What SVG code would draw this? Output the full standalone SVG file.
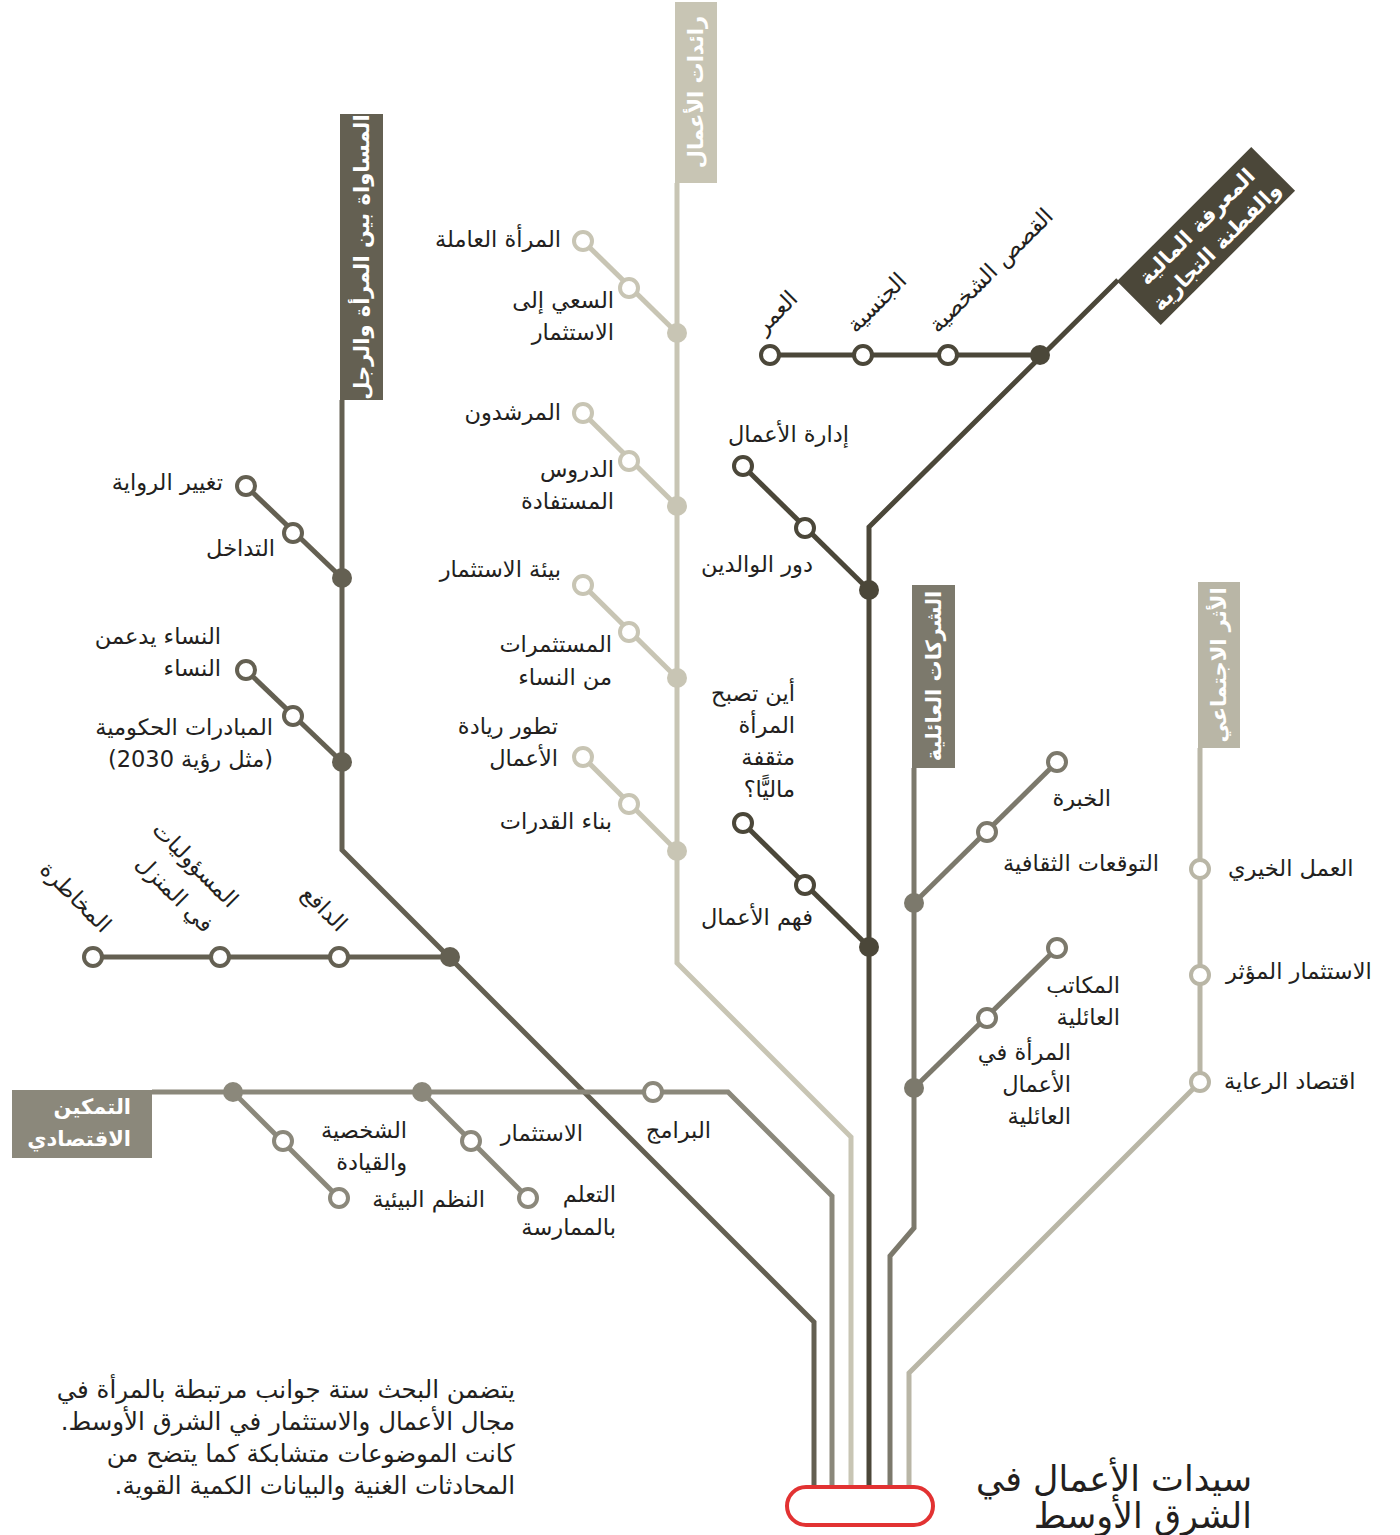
<svg xmlns="http://www.w3.org/2000/svg" width="1400" height="1535" viewBox="0 0 1400 1535">
<style>
.t{font-family:"DejaVu Sans","Noto Sans",sans-serif;font-size:22.5px;fill:#231f20;direction:rtl}
.R{text-anchor:start}
.L{text-anchor:end}
.p{font-size:24.5px}
.ttl{font-size:35px}
.hd{font-family:"DejaVu Sans","Noto Sans",sans-serif;font-size:21px;font-weight:bold;fill:#ffffff;text-anchor:middle;direction:rtl}
.ln{fill:none;stroke-width:5;stroke-linejoin:miter}
.o{fill:#ffffff;stroke-width:4}
.eq{stroke:#646052}
.en{stroke:#c8c5b4}
.fi{stroke:#4b4739}
.fa{stroke:#7c796c}
.so{stroke:#b9b6a6}
.ec{stroke:#8b887b}
</style>
<rect width="1400" height="1535" fill="#ffffff"/>

<g id="connectors">
  <path class="ln eq" d="M342,400 V850 L814,1322 V1489"/>
  <path class="ln eq" d="M246,486 L342,578"/>
  <path class="ln eq" d="M246,670 L342,762"/>
  <path class="ln eq" d="M93,957 H450"/>
  <path class="ln en" d="M677,183 V963 L851,1137 V1489"/>
  <path class="ln en" d="M583,241 L677,333"/>
  <path class="ln en" d="M583,413 L677,506"/>
  <path class="ln en" d="M583,585 L677,678"/>
  <path class="ln en" d="M583,757 L677,851"/>
  <path class="ln fi" d="M1118,280 L869,527 V1489"/>
  <path class="ln fi" d="M770,355 H1040"/>
  <path class="ln fi" d="M743,466 L869,590"/>
  <path class="ln fi" d="M743,823 L869,947"/>
  <path class="ln fa" d="M914,768 V1228 L890,1256 V1489"/>
  <path class="ln fa" d="M914,903 L1057,762"/>
  <path class="ln fa" d="M914,1088 L1057,948"/>
  <path class="ln so" d="M1200,748 V1082 L909,1373 V1489"/>
  <path class="ln ec" d="M152,1092 H728 L832,1196 V1489"/>
  <path class="ln ec" d="M233,1092 L339,1198"/>
  <path class="ln ec" d="M422,1092 L528,1198"/>
</g>

<g id="node-equality">
  <rect x="340" y="114" width="43" height="286" fill="#646052"/>
  <text class="hd" transform="translate(369,257) rotate(-90)">المساواة بين المرأة والرجل</text>
  <circle class="o eq" cx="246" cy="486" r="9"/>
  <circle class="o eq" cx="293" cy="533" r="9"/>
  <circle cx="342" cy="578" r="10" fill="#646052"/>
  <circle class="o eq" cx="246" cy="670" r="9"/>
  <circle class="o eq" cx="293" cy="716" r="9"/>
  <circle cx="342" cy="762" r="10" fill="#646052"/>
  <circle class="o eq" cx="93" cy="957" r="9"/>
  <circle class="o eq" cx="220" cy="957" r="9"/>
  <circle class="o eq" cx="339" cy="957" r="9"/>
  <circle cx="450" cy="957" r="10" fill="#646052"/>
  <text class="t R" x="223" y="490">تغيير الرواية</text>
  <text class="t R" x="275" y="556">التداخل</text>
  <text class="t R" x="221" y="644">النساء يدعمن</text>
  <text class="t R" x="221" y="676">النساء</text>
  <text class="t R" x="273" y="735">المبادرات الحكومية</text>
  <text class="t R" x="273" y="767">(مثل رؤية 2030)</text>
  <text class="t R" transform="translate(102,934) rotate(45)">المخاطرة</text>
  <text class="t R" transform="translate(229,909) rotate(45)">المسؤوليات</text>
  <text class="t R" transform="translate(204,934) rotate(45)">في المنزل</text>
  <text class="t R" transform="translate(338,933) rotate(45)">الدافع</text>
</g>

<g id="node-entrepreneurs">
  <rect x="675" y="2" width="42" height="181" fill="#c8c5b4"/>
  <text class="hd" transform="translate(703,92) rotate(-90)">رائدات الأعمال</text>
  <circle class="o en" cx="583" cy="241" r="9"/>
  <circle class="o en" cx="629" cy="288" r="9"/>
  <circle cx="677" cy="333" r="10" fill="#c8c5b4"/>
  <circle class="o en" cx="583" cy="413" r="9"/>
  <circle class="o en" cx="629" cy="461" r="9"/>
  <circle cx="677" cy="506" r="10" fill="#c8c5b4"/>
  <circle class="o en" cx="583" cy="585" r="9"/>
  <circle class="o en" cx="629" cy="632" r="9"/>
  <circle cx="677" cy="678" r="10" fill="#c8c5b4"/>
  <circle class="o en" cx="583" cy="757" r="9"/>
  <circle class="o en" cx="629" cy="804" r="9"/>
  <circle cx="677" cy="851" r="10" fill="#c8c5b4"/>
  <text class="t R" x="561" y="247">المرأة العاملة</text>
  <text class="t R" x="614" y="308">السعي إلى</text>
  <text class="t R" x="614" y="340">الاستثمار</text>
  <text class="t R" x="561" y="420">المرشدون</text>
  <text class="t R" x="614" y="477">الدروس</text>
  <text class="t R" x="614" y="509">المستفادة</text>
  <text class="t R" x="561" y="577">بيئة الاستثمار</text>
  <text class="t R" x="612" y="652">المستثمرات</text>
  <text class="t R" x="612" y="685">من النساء</text>
  <text class="t R" x="558" y="734">تطور ريادة</text>
  <text class="t R" x="558" y="766">الأعمال</text>
  <text class="t R" x="612" y="829">بناء القدرات</text>
</g>

<g id="node-financial">
  <rect x="-95" y="-31" width="190" height="62" fill="#4b4739" transform="translate(1206,236) rotate(-45)"/>
  <text class="hd" transform="translate(1206,236) rotate(-45)"><tspan x="0" y="-6">المعرفة المالية</tspan><tspan x="0" y="22">والفطنة التجارية</tspan></text>
  <circle class="o fi" cx="770" cy="355" r="9"/>
  <circle class="o fi" cx="863" cy="355" r="9"/>
  <circle class="o fi" cx="948" cy="355" r="9"/>
  <circle cx="1040" cy="355" r="10" fill="#4b4739"/>
  <circle class="o fi" cx="743" cy="466" r="9"/>
  <circle class="o fi" cx="805" cy="528" r="9"/>
  <circle cx="869" cy="590" r="10" fill="#4b4739"/>
  <circle class="o fi" cx="743" cy="823" r="9"/>
  <circle class="o fi" cx="805" cy="885" r="9"/>
  <circle cx="869" cy="947" r="10" fill="#4b4739"/>
  <text class="t L" transform="translate(764,335) rotate(-45)">العمر</text>
  <text class="t L" transform="translate(856,334) rotate(-45)">الجنسية</text>
  <text class="t L" transform="translate(938,334) rotate(-45)">القصص الشخصية</text>
  <text class="t R" x="849" y="442">إدارة الأعمال</text>
  <text class="t R" x="813" y="572">دور الوالدين</text>
  <text class="t R" x="795" y="701">أين تصبح</text>
  <text class="t R" x="795" y="733">المرأة</text>
  <text class="t R" x="795" y="765">مثقفة</text>
  <text class="t R" x="795" y="797">ماليًّا؟</text>
  <text class="t R" x="813" y="925">فهم الأعمال</text>
</g>

<g id="node-family">
  <rect x="912" y="585" width="43" height="183" fill="#7c796c"/>
  <text class="hd" transform="translate(941,676) rotate(-90)">الشركات العائلية</text>
  <circle cx="914" cy="903" r="10" fill="#7c796c"/>
  <circle class="o fa" cx="987" cy="832" r="9"/>
  <circle class="o fa" cx="1057" cy="762" r="9"/>
  <circle cx="914" cy="1088" r="10" fill="#7c796c"/>
  <circle class="o fa" cx="987" cy="1018" r="9"/>
  <circle class="o fa" cx="1057" cy="948" r="9"/>
  <text class="t R" x="1111" y="806">الخبرة</text>
  <text class="t R" x="1159" y="871">التوقعات الثقافية</text>
  <text class="t R" x="1120" y="993">المكاتب</text>
  <text class="t R" x="1120" y="1025">العائلية</text>
  <text class="t R" x="1071" y="1060">المرأة في</text>
  <text class="t R" x="1071" y="1092">الأعمال</text>
  <text class="t R" x="1071" y="1124">العائلية</text>
</g>

<g id="node-social">
  <rect x="1198" y="582" width="42" height="166" fill="#b9b6a6"/>
  <text class="hd" transform="translate(1226,665) rotate(-90)">الأثر الاجتماعي</text>
  <circle class="o so" cx="1200" cy="869" r="9"/>
  <circle class="o so" cx="1200" cy="975" r="9"/>
  <circle class="o so" cx="1200" cy="1082" r="9"/>
  <text class="t L" x="1228" y="876">العمل الخيري</text>
  <text class="t L" x="1226" y="979">الاستثمار المؤثر</text>
  <text class="t L" x="1224" y="1089">اقتصاد الرعاية</text>
</g>

<g id="node-economic">
  <rect x="12" y="1090" width="140" height="68" fill="#8b887b"/>
  <text class="hd" x="131" y="1114" style="text-anchor:start">التمكين</text>
  <text class="hd" x="131" y="1146" style="text-anchor:start">الاقتصادي</text>
  <circle cx="233" cy="1092" r="10" fill="#8b887b"/>
  <circle class="o ec" cx="283" cy="1141" r="9"/>
  <circle class="o ec" cx="339" cy="1198" r="9"/>
  <circle cx="422" cy="1092" r="10" fill="#8b887b"/>
  <circle class="o ec" cx="471" cy="1141" r="9"/>
  <circle class="o ec" cx="528" cy="1198" r="9"/>
  <circle class="o ec" cx="653" cy="1092" r="9"/>
  <text class="t R" x="407" y="1138">الشخصية</text>
  <text class="t R" x="407" y="1170">والقيادة</text>
  <text class="t R" x="485" y="1207">النظم البيئية</text>
  <text class="t R" x="583" y="1141">الاستثمار</text>
  <text class="t R" x="616" y="1202">التعلم</text>
  <text class="t R" x="616" y="1235">بالممارسة</text>
  <text class="t R" x="711" y="1138">البرامج</text>
</g>

<g id="node-hub">
  <rect x="787" y="1487" width="146" height="38" rx="19" fill="#ffffff" stroke="#e23232" stroke-width="4"/>
  <text class="t R ttl" x="1252" y="1491">سيدات الأعمال في</text>
  <text class="t R ttl" x="1252" y="1528">الشرق الأوسط</text>
</g>

<g id="intro">
  <text class="t R p" x="515" y="1398">يتضمن البحث ستة جوانب مرتبطة بالمرأة في</text>
  <text class="t R p" x="515" y="1430">مجال الأعمال والاستثمار في الشرق الأوسط.</text>
  <text class="t R p" x="515" y="1462">كانت الموضوعات متشابكة كما يتضح من</text>
  <text class="t R p" x="515" y="1494">المحادثات الغنية والبيانات الكمية القوية.</text>
</g>
</svg>
